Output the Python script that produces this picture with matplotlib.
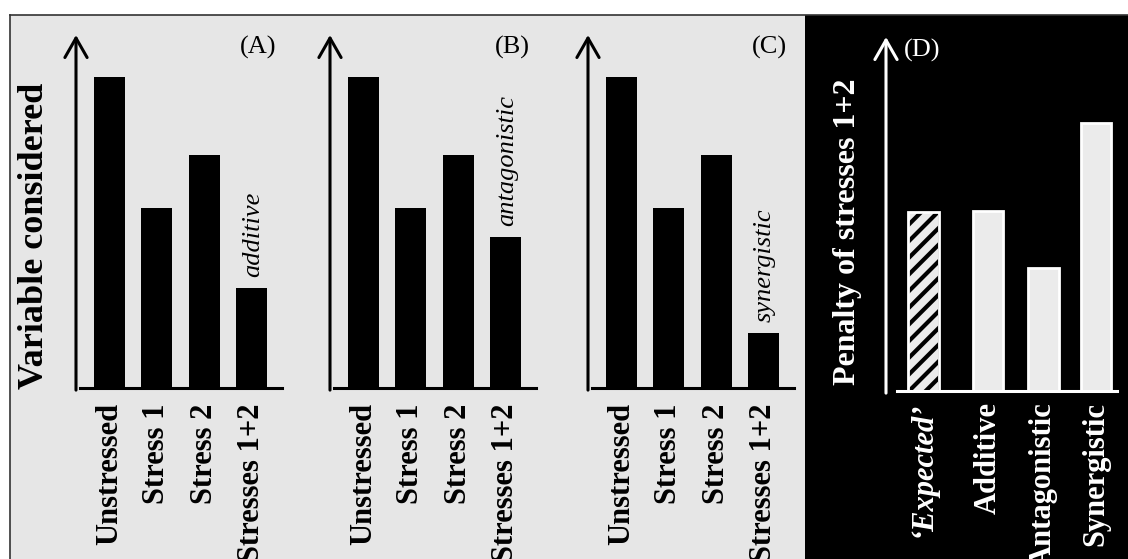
import matplotlib
matplotlib.use("Agg")
import matplotlib.pyplot as plt
from matplotlib.patches import Rectangle
from matplotlib.lines import Line2D

plt.rcParams['font.family'] = ['Liberation Serif', 'DejaVu Serif']
plt.rcParams['hatch.linewidth'] = 3

# data (arbitrary units)
groups = ['Unstressed', 'Stress 1', 'Stress 2', 'Stresses 1+2']
additive = [100, 58, 75, 32]
antagonistic = [100, 58, 75, 48.5]
synergistic = [100, 58, 75, 17.7]
panel_vals = [additive, antagonistic, synergistic]
panel_letters = ['(A)', '(B)', '(C)']
panel_notes = ['additive', 'antagonistic', 'synergistic']

penalty_cats = ['\u2018Expected\u2019', 'Additive', 'Antagonistic', 'Synergistic']
penalty = [66.8, 67.2, 45.9, 100]

# layout
W, H = 1128, 559
GRAY = '#e6e6e6'
LIGHT = '#ebebeb'
d_pos = [0, 1.2, 2.22, 3.2]

fig = plt.figure(figsize=(W / 100, H / 100), dpi=100)
fig.patch.set_facecolor('white')
fig.patches.append(Rectangle((10 / W, 0), (805 - 10) / W, (H - 15) / H,
                             transform=fig.transFigure, facecolor=GRAY,
                             edgecolor='none', zorder=-10))
fig.patches.append(Rectangle((805 / W, 0), 1 - 805 / W, (H - 15) / H,
                             transform=fig.transFigure, facecolor='black',
                             edgecolor='none', zorder=-9))
fig.lines.append(Line2D([10 / W, 1], [1 - 15 / H, 1 - 15 / H], transform=fig.transFigure,
                        color='#333333', lw=1.2))
fig.lines.append(Line2D([10 / W, 10 / W], [0, 1 - 15 / H], transform=fig.transFigure,
                        color='#333333', lw=1.2))


def px_axes(left, right, top, bottom):
    return fig.add_axes([left / W, 1 - bottom / H, (right - left) / W, (bottom - top) / H])


def arrow_axis(ax, color):
    ax.annotate('', xy=(0, 1), xytext=(0, -0.006), xycoords='axes fraction',
                arrowprops=dict(arrowstyle='->,head_length=0.7,head_width=0.4',
                                mutation_scale=20, lw=2.2, color=color,
                                shrinkA=0, shrinkB=0), annotation_clip=False)


lefts = [76, 330, 588]
for i in range(3):
    ax = px_axes(lefts[i], lefts[i] + 206, 35, 388)
    ax.patch.set_visible(False)
    vals = panel_vals[i]
    ax.bar(range(len(groups)), vals, width=0.655, color='black')
    ax.set_xlim(-0.708, 3.647)
    ax.set_ylim(0, 113.5)
    for s in ['top', 'right', 'left']:
        ax.spines[s].set_visible(False)
    ax.spines['bottom'].set_linewidth(2.2)
    ax.spines['bottom'].set_bounds(-0.62, 3.647)
    arrow_axis(ax, 'black')
    ax.set_yticks([])
    ax.set_xticks(range(len(groups)), groups, rotation=90, fontsize=22, fontweight='bold')
    ax.tick_params(axis='x', length=0, pad=11)
    ax.text(0.883, 0.966, panel_letters[i], transform=ax.transAxes, ha='center',
            va='center', fontsize=19)
    ax.annotate(panel_notes[i], xy=(3, vals[3]), xytext=(1, 8), textcoords='offset points',
                rotation=90, ha='center', va='bottom', style='italic', fontsize=19)
    if i == 0:
        ax.set_ylabel('Variable considered', fontsize=26, fontweight='bold')
        ax.yaxis.set_label_coords(-25 / 206, (388 - 236) / 353)

# panel D
ax = px_axes(886, 1117, 37, 391)
ax.patch.set_visible(False)
ax.bar(d_pos[0], penalty[0], width=0.53, color=LIGHT, edgecolor='black', hatch='//', lw=0)
ax.bar(d_pos, penalty, width=0.56, color=[(0, 0, 0, 0)] + [LIGHT] * 3,
       edgecolor='white', lw=2)
ax.set_xlim(-0.694, 3.583)
ax.set_ylim(0, 132.1)
for s in ['top', 'right', 'left']:
    ax.spines[s].set_visible(False)
ax.spines['bottom'].set_color('white')
ax.spines['bottom'].set_linewidth(2.2)
ax.spines['bottom'].set_bounds(-0.49, 3.583)
arrow_axis(ax, 'white')
ax.set_yticks([])
ax.set_xticks(d_pos, penalty_cats, rotation=90, fontsize=22, fontweight='bold', color='white')
ax.get_xticklabels()[0].set_style('italic')
ax.tick_params(axis='x', length=0, pad=8)
ax.text(0.156, 0.963, '(D)', transform=ax.transAxes, ha='center', va='center',
        fontsize=19, color='white')
ax.set_ylabel('Penalty of stresses 1+2', fontsize=23, fontweight='bold', color='white')
ax.yaxis.set_label_coords(-24 / 231, (391 - 232) / 354)

fig.savefig('out.png', dpi=100)
